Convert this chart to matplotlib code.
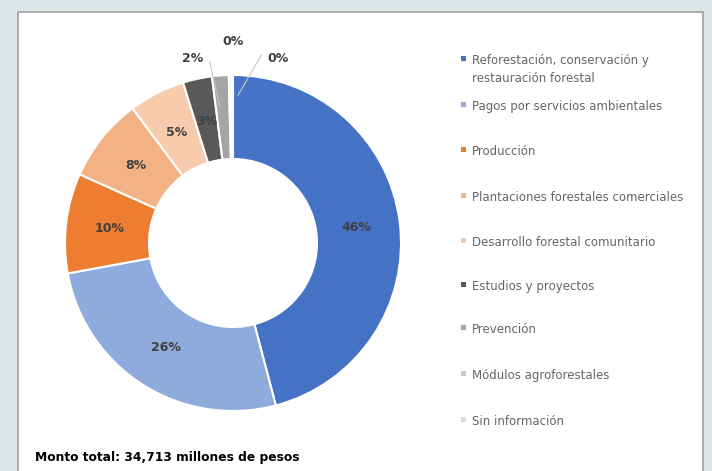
import matplotlib
matplotlib.use("Agg")
import matplotlib.pyplot as plt
import numpy as np
from matplotlib.patches import Rectangle

categories = [
    "Reforestación, conservación y\nrestauración forestal",
    "Pagos por servicios ambientales",
    "Producción",
    "Plantaciones forestales comerciales",
    "Desarrollo forestal comunitario",
    "Estudios y proyectos",
    "Prevención",
    "Módulos agroforestales",
    "Sin información",
]
values = [45.9, 26.2, 9.6, 8.1, 5.4, 2.8, 1.6, 0.25, 0.15]
pct_labels = ["46%", "26%", "10%", "8%", "5%", "3%", "2%", "0%", "0%"]
colors = ["#4472C4", "#8FAADC", "#ED7D31", "#F4B183", "#F8CBAD",
          "#595959", "#A5A5A5", "#C9C9C9", "#DBDBDB"]
footer = "Monto total: 34,713 millones de pesos"

plt.rcParams['font.family'] = ['DejaVu Sans']

W, H = 712, 471
fig = plt.figure(figsize=(W / 100, H / 100), dpi=100)
fig.patch.set_facecolor("#DDE6E9")

# white panel
panel = Rectangle((18 / W, -0.01), (703 - 18) / W, 1 - 12 / H + 0.01,
                  transform=fig.transFigure, facecolor="white",
                  edgecolor="#A0A0A0", linewidth=1.2, zorder=-5)
fig.patches.append(panel)

cx, cy, R = 233, 243, 168
ax = fig.add_axes([(cx - R) / W, (H - cy - R) / H, 2 * R / W, 2 * R / H])
ax.set_zorder(5)
ax.patch.set_visible(False)

wedges, _ = ax.pie(values, colors=colors, startangle=90, counterclock=False,
                   radius=1.0, wedgeprops=dict(width=0.5, edgecolor="white",
                                               linewidth=1.5))
ax.set_xlim(-1, 1)
ax.set_ylim(-1, 1)
ax.set_aspect("equal")
ax.axis("off")

lab_kw = dict(ha="center", va="center", fontsize=9, fontweight="bold",
              color="#404040")

# inside labels
for i, w in enumerate(wedges[:6]):
    th = np.deg2rad((w.theta1 + w.theta2) / 2)
    r = 0.74
    ax.text(r * np.cos(th), r * np.sin(th), pct_labels[i], **lab_kw)

# outside labels with leader lines
ax.text(-0.24, 1.10, pct_labels[6], clip_on=False, **lab_kw)
ax.plot([-0.14, -0.08], [1.08, 0.82], color="#C8C8C8", lw=0.8, clip_on=False)
ax.text(0.0, 1.20, pct_labels[7], clip_on=False, **lab_kw)
ax.text(0.27, 1.10, pct_labels[8], clip_on=False, **lab_kw)
ax.plot([0.17, 0.03], [1.12, 0.88], color="#C8C8C8", lw=0.8, clip_on=False)

# legend (baselines of first lines)
leg_y = [64, 110, 155, 201, 246, 290, 333, 379, 425]
for c, lab, y in zip(colors, categories, leg_y):
    fig.patches.append(Rectangle((461 / W, 1 - (y - 3) / H), 5 / W, 5 / H,
                                 transform=fig.transFigure, facecolor=c,
                                 edgecolor="none", zorder=3))
    for j, line in enumerate(lab.split("\n")):
        fig.text(472 / W, 1 - (y + 18 * j) / H, line, ha="left",
                 va="baseline", fontsize=8.5, color="#666666")

fig.text(35 / W, 1 - 458 / H, footer, ha="left", va="center", fontsize=8.8,
         fontweight="bold", color="black")

fig.savefig("out.png", dpi=100, facecolor=fig.get_facecolor())
